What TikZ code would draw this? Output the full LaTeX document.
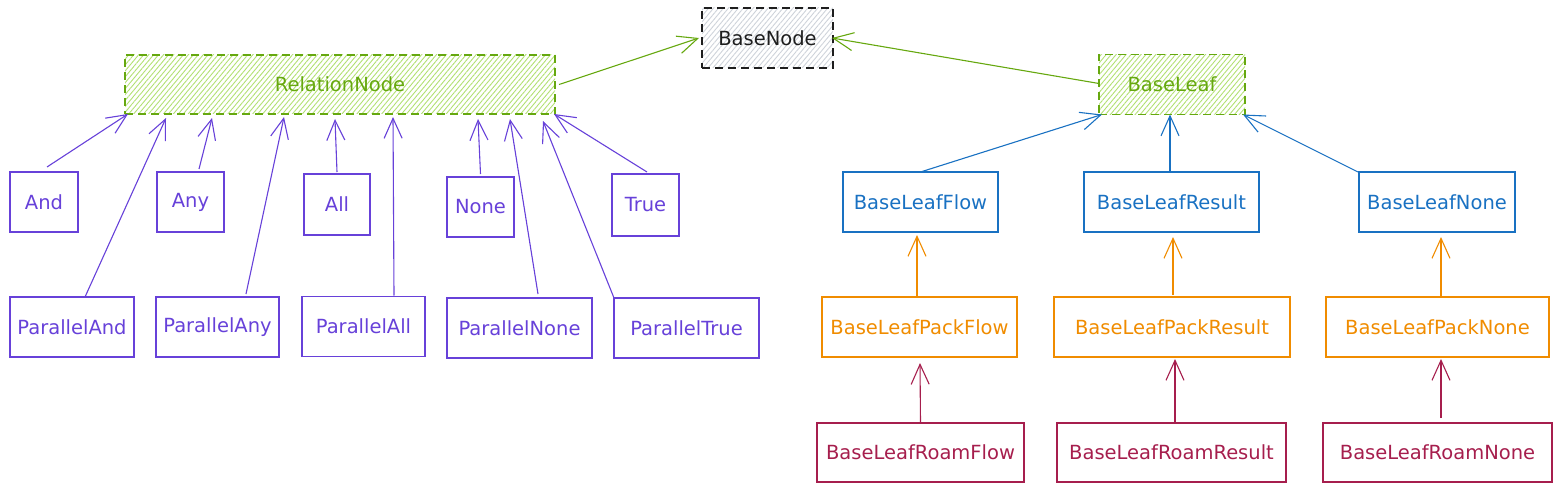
\documentclass[tikz,border=0pt]{standalone}
\usepackage{fontspec}
\setmainfont{DejaVu Sans}
\usetikzlibrary{arrows.meta,patterns.meta}
\definecolor{vio}{RGB}{103,65,217}
\definecolor{grn}{RGB}{102,168,15}
\definecolor{grnh}{RGB}{178,224,115}
\definecolor{grayh}{RGB}{206,211,218}
\definecolor{blu}{RGB}{25,113,194}
\definecolor{org}{RGB}{240,140,0}
\definecolor{crm}{RGB}{166,30,77}
\definecolor{blk}{RGB}{30,30,30}
\begin{document}
\begin{tikzpicture}[x=1pt,y=-1pt,
  box/.style={draw, line width=1.1pt, inner sep=0pt, outer sep=0pt, minimum height=60pt, font=\fontsize{19.5}{22}\selectfont},
  vbox/.style={box, draw=vio, text=vio},
  bbox/.style={box, draw=blu, text=blu},
  obox/.style={box, draw=org, text=org},
  cbox/.style={box, draw=crm, text=crm},
  gbox/.style={box, draw=grn, text=grn, dash pattern=on 8pt off 5pt, line width=1.4pt,
     pattern={Lines[angle=50,distance=3.8pt,line width=0.9pt]}, pattern color=grnh},
  kbox/.style={box, draw=blk, text=blk, dash pattern=on 8pt off 5pt, line width=1.3pt,
     pattern={Lines[angle=50,distance=3.8pt,line width=0.9pt]}, pattern color=grayh},
  conn/.style={line width=1.1pt, -{Straight Barb[length=20pt,width=18pt]}},
  vconn/.style={conn, draw=vio},
  gconn/.style={conn, draw=grn},
  bconn/.style={conn, draw=blu},
  oconn/.style={conn, draw=org},
  cconn/.style={conn, draw=crm},
]
\useasboundingbox (0,0) rectangle (1561,492);

% top level
\node[kbox, minimum width=131pt] (basenode) at (767.5,38) {BaseNode};
\node[gbox, minimum width=430pt, minimum height=59pt] (rel) at (340,84.5) {RelationNode};
\node[gbox, minimum width=146pt] (leaf) at (1172,84.5) {BaseLeaf};

% relation children
\node[vbox, minimum width=68pt] (and) at (44,202) {And};
\node[vbox, minimum width=67pt] (any) at (190.5,202) {Any};
\node[vbox, minimum width=66pt, minimum height=61pt] (all) at (337,204.5) {All};
\node[vbox, minimum width=67pt] (none) at (480.5,207) {None};
\node[vbox, minimum width=67pt, minimum height=62pt] (true) at (645.5,205) {True};

\node[vbox, minimum width=124pt] (pand) at (72,327) {ParallelAnd};
\node[vbox, minimum width=123pt] (pany) at (217.5,327) {ParallelAny};
\node[vbox, minimum width=123pt] (pall) at (363.5,326.5) {ParallelAll};
\node[vbox, minimum width=145pt] (pnone) at (519.5,328) {ParallelNone};
\node[vbox, minimum width=145pt] (ptrue) at (686.5,328) {ParallelTrue};

% leaf children
\node[bbox, minimum width=155pt] (flow) at (920.5,202) {BaseLeafFlow};
\node[bbox, minimum width=175pt] (result) at (1171.5,202) {BaseLeafResult};
\node[bbox, minimum width=156pt] (lnone) at (1437,202) {BaseLeafNone};

\node[obox, minimum width=195pt] (pflow) at (919.5,327) {BaseLeafPackFlow};
\node[obox, minimum width=236pt] (presult) at (1172,327) {BaseLeafPackResult};
\node[obox, minimum width=223pt] (pnone2) at (1437.5,327) {BaseLeafPackNone};

\node[cbox, minimum width=207pt, minimum height=59pt] (rflow) at (920.5,452.5) {BaseLeafRoamFlow};
\node[cbox, minimum width=229pt, minimum height=59pt] (rresult) at (1171.5,452.5) {BaseLeafRoamResult};
\node[cbox, minimum width=229pt, minimum height=59pt] (rnone) at (1437.5,452.5) {BaseLeafRoamNone};

% connectors to RelationNode
\draw[vconn] ([xshift=3pt,yshift=5pt]and.north) -- ([xshift=3pt]rel.south west);
\draw[vconn] ([xshift=13pt]pand.north) -- ([xshift=41pt,yshift=-4pt]rel.south west);
\draw[vconn] ([xshift=8.5pt,yshift=3pt]any.north) -- ([xshift=87pt,yshift=-4pt]rel.south west);
\draw[vconn] ([xshift=28.5pt,yshift=3pt]pany.north) -- ([xshift=159pt,yshift=-3pt]rel.south west);
\draw[vconn] ([yshift=2pt]all.north) -- ([xshift=210pt,yshift=-5pt]rel.south west);
\draw[vconn] ([xshift=30.5pt,yshift=1pt]pall.north) -- ([xshift=268pt,yshift=-3pt]rel.south west);
\draw[vconn] ([yshift=3pt]none.north) -- ([xshift=353pt,yshift=-5pt]rel.south west);
\draw[vconn] ([xshift=18.5pt,yshift=4pt]pnone.north) -- ([xshift=385pt,yshift=-5pt]rel.south west);
\draw[vconn] (ptrue.north west) -- ([xshift=-12pt,yshift=-7pt]rel.south east);
\draw[vconn] ([xshift=1.5pt,yshift=2pt]true.north) -- ([xshift=-1pt]rel.south east);

% to BaseNode
\draw[gconn] ([xshift=4pt]rel.east) -- ([xshift=-3pt]basenode.west);
\draw[gconn] ([yshift=1pt]leaf.west) -- ([xshift=-1pt]basenode.east);

% leaf hierarchy
\draw[bconn] (flow.north) -- ([xshift=3pt]leaf.south west);
\draw[bconn] ([xshift=-1.5pt]result.north) -- ([xshift=-2pt]leaf.south);
\draw[bconn] ([xshift=-1pt]lnone.north west) -- ([xshift=-2pt]leaf.south east);

\draw[oconn] ([xshift=-2.5pt]pflow.north) -- ([xshift=-3.5pt,yshift=-3pt]flow.south);
\draw[oconn] ([xshift=1pt,yshift=2pt]presult.north) -- ([xshift=1.5pt,yshift=-5pt]result.south);
\draw[oconn] ([xshift=3.5pt]pnone2.north) -- ([xshift=4pt,yshift=-5pt]lnone.south);

\draw[cconn] (rflow.north) -- ([xshift=0.5pt,yshift=-6pt]pflow.south);
\draw[cconn] ([xshift=3.5pt]rresult.north) -- ([xshift=3pt,yshift=-2pt]presult.south);
\draw[cconn] ([xshift=3.5pt,yshift=5pt]rnone.north) -- ([xshift=3.5pt,yshift=-2pt]pnone2.south);
\end{tikzpicture}
\end{document}
